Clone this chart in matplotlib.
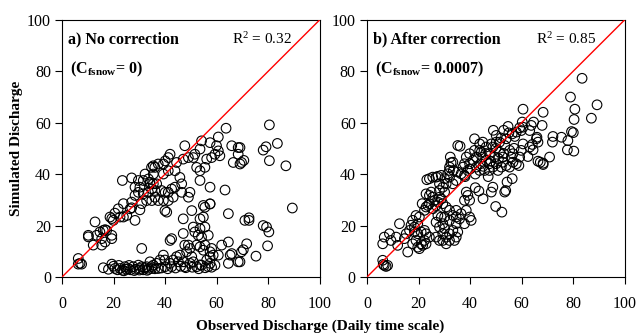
import matplotlib
matplotlib.use("Agg")
import matplotlib.pyplot as plt

plt.rcParams['font.family'] = ['Liberation Serif', 'DejaVu Serif']
plt.rcParams['mathtext.fontset'] = 'custom'
plt.rcParams['mathtext.rm'] = 'Liberation Serif'
plt.rcParams['mathtext.it'] = 'Liberation Serif:italic'
plt.rcParams['mathtext.bf'] = 'Liberation Serif:bold'

# ---------------- Panel a) No correction ----------------
obs_a = [
    63.6, 80.4, 83.5, 79.1, 78.0, 80.4, 86.8, 69.0, 70.5, 69.0, 89.3,
    60.6, 57.4, 54.1, 53.5, 47.6, 59.9, 65.8, 68.3, 68.3, 69.6, 66.4, 61.2, 59.3, 58.0,
    56.1, 60.6, 55.4, 53.5, 52.2, 51.5, 50.9, 49.0, 47.0, 44.4, 41.9, 41.2, 40.0, 39.3,
    37.3, 36.0, 34.7, 35.4, 39.3, 41.2, 43.8, 45.7, 46.4, 43.8, 42.5, 41.2, 40.0, 38.6,
    36.7, 34.1, 36.0, 37.3, 39.3, 41.2, 43.1, 46.4, 49.0, 49.6, 53.5, 57.4, 63.2, 39.9, 40.6,
    35.4, 27.0, 29.6, 31.5, 33.5, 32.2, 23.4, 28.3, 30.2, 29.6, 28.3, 31.5, 33.5, 34.8,
    35.4, 34.1, 32.8, 30.9, 34.8, 36.0, 23.8, 27.0, 26.4, 27.0, 30.2, 28.3, 20.5, 22.5,
    18.6, 19.3, 19.9, 16.0, 16.7, 12.8, 10.2, 10.2, 13.4, 14.7, 17.3, 19.3, 19.3, 15.4,
    16.7, 15.4, 12.1, 6.3, 7.0, 6.3, 7.6, 21.8, 25.1, 23.8,
    50.3, 47.0, 53.5, 54.8, 57.4, 55.4, 64.5, 70.9, 50.9, 53.5, 55.4, 51.5, 52.8, 47.0,
    42.5, 41.9, 54.1, 56.7, 47.6, 49.0, 49.6, 52.2, 53.5, 55.4, 54.8, 58.0, 57.4, 58.6,
    61.9, 64.5, 60.6, 57.4, 64.5, 68.3, 65.8, 65.2, 69.6, 56.1, 53.5, 50.9,
    72.5, 72.5, 78.0, 79.3, 80.2, 71.6, 70.3, 69.0, 75.2, 79.7, 30.9, 54.8, 57.4,
    16.0, 19.3, 20.5, 21.5, 22.5, 23.5, 24.4, 25.0, 25.7, 26.5, 27.6, 28.5, 29.6, 30.2,
    30.9, 31.5, 32.2, 32.8, 33.5, 34.1, 34.8, 34.7, 35.4, 36.7, 37.3, 38.0, 39.3, 39.9,
    39.9, 41.9, 42.5, 43.1, 44.4, 45.1, 45.7, 47.0, 47.6, 48.3, 49.6, 50.3, 52.2, 54.1,
    56.7, 57.4, 59.3, 18.0, 20.0, 22.0, 24.0, 26.0, 28.0, 30.0, 33.0, 36.0, 38.5, 41.0,
    44.0, 46.0, 48.0, 50.5, 53.0, 55.5, 58.0,
]
sim_a = [
    57.8, 59.1, 51.9, 50.6, 49.3, 45.2, 43.2, 50.3, 45.3, 43.9, 26.8,
    54.4, 52.2, 52.9, 49.7, 51.0, 51.0, 51.0, 50.3, 47.7, 44.5, 44.5, 47.1, 47.7, 46.4,
    45.8, 49.0, 42.6, 41.3, 42.6, 47.7, 46.4, 46.4, 45.8, 44.5, 47.7, 46.4, 45.1, 43.9,
    43.9, 42.6, 42.6, 40.0, 40.0, 41.3, 41.3, 38.7, 36.2, 34.9, 34.2, 32.9, 32.9, 33.6,
    36.2, 36.2, 33.6, 29.7, 29.7, 29.7, 31.0, 32.9, 31.0, 32.9, 37.5, 34.9, 33.8, 25.8, 25.2,
    43.2, 38.5, 37.5, 37.5, 38.1, 40.0, 37.5, 34.9, 34.9, 32.9, 31.7, 32.3, 32.9, 34.2,
    36.2, 36.8, 29.7, 28.5, 29.7, 31.0, 28.5, 29.1, 26.5, 26.9, 26.1, 22.0, 24.8, 23.3,
    23.3, 22.7, 22.0, 18.1, 18.4, 21.4, 16.2, 15.6, 16.2, 17.5, 18.1, 16.2, 14.9, 14.9,
    13.6, 12.4, 12.4, 7.2, 5.3, 5.0, 5.0, 26.5, 23.9, 23.3,
    25.8, 22.6, 22.6, 23.3, 28.4, 27.1, 24.6, 22.0, 19.4, 18.8, 19.4, 17.5, 16.2, 16.9,
    14.9, 14.2, 15.5, 16.2, 12.4, 12.4, 11.1, 12.4, 11.7, 12.4, 10.4, 11.1, 9.8, 8.5,
    12.4, 13.6, 8.5, 7.9, 5.3, 5.9, 9.1, 8.5, 9.8, 6.6, 4.7, 5.9,
    23.0, 22.0, 20.0, 19.4, 17.5, 12.9, 10.6, 5.9, 8.1, 12.1, 11.1, 27.8, 28.4,
    3.6, 5.0, 3.3, 2.8, 3.3, 2.6, 4.0, 3.0, 3.3, 2.8, 4.0, 3.0, 4.6, 3.3,
    4.0, 2.8, 3.6, 4.0, 3.0, 5.9, 3.3, 4.0, 4.6, 5.3, 3.3, 6.6, 8.5, 6.6,
    4.0, 5.3, 4.0, 6.6, 7.9, 5.9, 8.5, 5.9, 4.0, 9.8, 5.3, 7.9, 4.0, 4.6,
    4.0, 5.3, 4.6, 3.0, 4.2, 4.5, 2.4, 4.5, 2.5, 2.7, 2.6, 3.2, 3.5, 3.2,
    3.5, 4.2, 3.6, 3.8, 3.2, 3.6, 3.8,
]

# ---------------- Panel b) After correction ----------------
obs_b = [
    83.4, 78.9, 80.6, 80.3, 89.2, 87.0, 79.3, 80.0, 77.9, 80.2, 77.7, 75.4, 72.1, 71.9,
    70.8, 68.3, 68.3, 67.2, 66.3, 68.3, 67.9, 65.7, 66.3, 65.9, 64.6, 63.7, 63.1, 60.5,
    60.2, 59.2, 60.5, 59.8, 57.9, 57.3, 56.3, 54.7, 63.1, 64.4, 64.1, 62.4, 60.5, 59.8,
    59.2, 57.9, 58.9, 56.0, 56.6, 56.3, 54.3, 53.8, 53.4, 52.3, 49.9, 48.8, 48.2, 45.0,
    43.4, 42.0,
    50.1, 48.8, 51.4, 52.7, 50.1, 47.5, 46.2, 44.9, 43.7, 42.4, 41.1, 42.4, 43.7, 45.6,
    47.5, 48.8, 50.8, 52.1, 52.7, 54.0, 55.3, 53.4, 51.4, 50.1, 48.2, 46.2, 44.9, 44.3,
    41.7, 39.8, 39.8, 38.5, 37.8, 39.1, 37.2, 41.7, 43.7, 47.5, 49.5, 54.0, 55.3, 56.6,
    36.1, 46.0, 48.0, 44.0, 51.0, 53.0, 45.0, 40.0, 42.0, 47.0, 38.0, 50.0, 52.0, 55.0,
    57.0, 49.0, 53.0,
    32.6, 32.0, 33.5, 35.2, 36.5, 37.8, 34.6, 33.3, 32.0, 30.7, 29.4, 28.1, 27.5, 28.8,
    30.1, 31.3, 32.3, 33.3, 32.0, 28.1, 29.4, 30.7, 32.0, 33.3, 34.6, 35.9, 34.6, 36.5,
    37.8, 38.5, 39.1, 39.8, 38.5, 39.8, 40.4, 37.8, 34.6, 33.3, 32.0, 30.7, 30.1, 29.4,
    28.1, 26.8, 28.1, 29.4, 32.0, 34.6, 35.2, 33.9, 30.7, 29.4, 32.0, 30.1, 28.8, 27.5,
    26.8, 25.5, 26.8, 27.5, 28.8, 30.1, 28.1, 26.8, 25.5, 24.2, 23.2, 22.9, 24.2, 24.9,
    25.5, 26.2, 24.2, 23.6, 22.9, 22.3, 21.4, 20.3, 19.0, 19.7, 17.7, 18.4, 17.1, 16.5,
    18.4, 19.7, 21.0, 22.3, 22.9, 24.2, 22.3, 21.0, 19.7, 20.3, 21.6, 22.9, 19.0, 17.7,
    15.2, 14.5, 12.6, 11.3, 9.3, 8.7, 6.7, 6.1, 15.8, 11.9, 6.1, 6.3, 6.7, 8.0, 7.4, 35.2,
]
sim_b = [
    77.2, 69.9, 65.2, 61.2, 66.9, 61.7, 56.5, 56.1, 53.0, 48.9, 49.4, 54.3, 54.6, 52.4,
    46.6, 44.2, 43.7, 44.6, 45.0, 64.0, 58.9, 53.7, 52.4, 54.3, 60.2, 58.9, 56.9, 65.2,
    60.2, 58.0, 58.2, 56.9, 56.3, 54.6, 55.6, 58.5, 50.5, 49.4, 51.5, 46.8, 51.7, 49.2,
    46.6, 44.0, 43.3, 46.6, 44.6, 38.2, 36.9, 33.6, 33.0, 25.2, 27.4, 34.9, 33.0, 30.4,
    33.4, 34.7,
    55.0, 50.5, 48.5, 46.6, 44.0, 44.0, 45.3, 46.6, 49.2, 46.6, 45.3, 42.7, 41.4, 41.4,
    41.4, 42.7, 41.4, 42.7, 44.6, 43.3, 42.7, 51.1, 52.4, 52.4, 51.7, 50.5, 52.4, 48.5,
    49.2, 47.9, 44.0, 46.6, 44.0, 41.4, 42.7, 53.7, 51.7, 47.9, 46.6, 53.7, 49.2, 47.9,
    50.8, 48.0, 45.0, 44.0, 46.0, 48.0, 43.0, 42.0, 40.0, 39.0, 39.0, 50.0, 54.0, 56.0,
    50.0, 57.0, 57.0,
    44.4, 41.4, 41.4, 40.8, 40.1, 39.5, 37.5, 36.2, 38.8, 36.2, 34.9, 33.6, 39.1, 39.5,
    38.2, 40.1, 46.6, 44.6, 42.7, 31.0, 28.5, 27.2, 25.9, 23.9, 23.3, 22.6, 25.9, 24.6,
    29.8, 33.0, 31.7, 29.8, 25.9, 23.3, 22.0, 20.7, 20.7, 18.1, 16.8, 15.5, 18.8, 20.7,
    19.4, 15.5, 14.2, 16.8, 14.2, 15.5, 17.5, 14.2, 12.9, 14.2, 22.0, 23.3, 23.3, 23.9,
    21.3, 26.5, 27.8, 29.1, 30.4, 33.0, 36.2, 38.8, 38.8, 38.2, 37.8, 32.3, 31.7, 33.0,
    31.0, 29.8, 28.5, 27.8, 27.2, 25.9, 28.5, 23.3, 23.9, 20.7, 22.0, 19.4, 20.1, 18.1,
    17.5, 16.8, 17.5, 18.1, 16.8, 15.5, 14.2, 12.9, 11.6, 11.0, 12.3, 12.9, 14.2, 12.9,
    16.8, 14.9, 20.7, 15.5, 14.2, 16.8, 15.5, 12.9, 9.7, 12.3, 6.5, 4.9, 4.5, 4.5, 4.1, 51.1,
]

panel_titles = ["a) No correction", "b) After correction"]
coef_labels = ["0", "0.0007"]
r2_labels = ["0.32", "0.85"]
ticks = [0, 20, 40, 60, 80, 100]

fig = plt.figure(figsize=(6.4, 3.36), dpi=100)
ax_a = fig.add_axes([0.0969, 0.1756, 0.403, 0.766])
ax_b = fig.add_axes([0.5734, 0.1756, 0.403, 0.766])

for ax, xs, ys, title, coef, r2 in [
    (ax_a, obs_a, sim_a, panel_titles[0], coef_labels[0], r2_labels[0]),
    (ax_b, obs_b, sim_b, panel_titles[1], coef_labels[1], r2_labels[1]),
]:
    ax.scatter(xs, ys, s=48, facecolors='none', edgecolors='black', linewidths=0.8, zorder=2)
    ax.plot([0, 100], [0, 100], color='red', lw=1.0, zorder=3)
    ax.set_xlim(0, 100)
    ax.set_ylim(0, 100)
    ax.set_xticks(ticks)
    ax.set_yticks(ticks)
    ax.tick_params(direction='out', length=5, width=0.8, labelsize=11.5, pad=3)
    ax.tick_params(axis='x', pad=9)
    for sp in ax.spines.values():
        sp.set_linewidth(0.8)
    ax.text(0.025, 0.955, title, transform=ax.transAxes, fontsize=11.5,
            fontweight='bold', va='top', ha='left')
    ax.text(0.03, 0.845, r"(C$_{\mathbf{fsnow}}$= " + coef + ")", transform=ax.transAxes,
            fontsize=11.5, fontweight='bold', va='top', ha='left')
    ax.text(0.89, 0.955, r"R$^{2}$ = " + r2, transform=ax.transAxes, fontsize=11,
            va='top', ha='right')

ax_a.set_ylabel("Simulated Discharge", fontsize=11, fontweight='bold', labelpad=3)
fig.text(0.5, 0.01, "Observed Discharge (Daily time scale)", ha='center', va='bottom',
         fontsize=11, fontweight='bold')

fig.savefig("out.png", dpi=100)
